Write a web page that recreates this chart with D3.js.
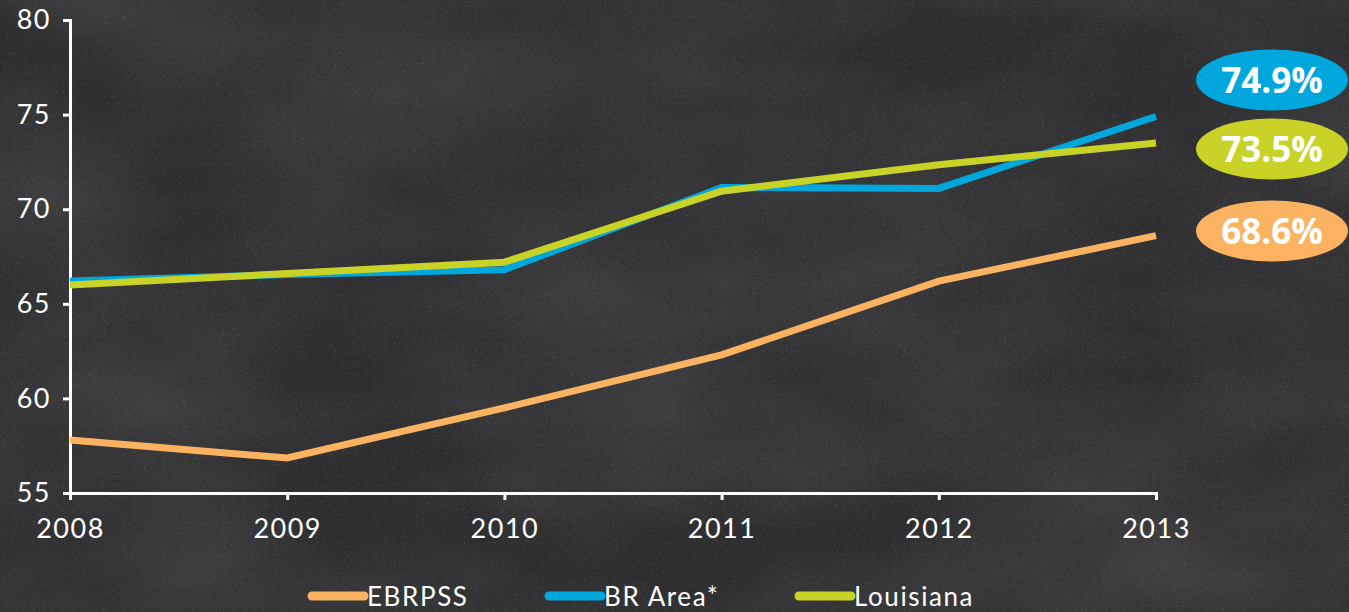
<!DOCTYPE html>
<html><head><meta charset="utf-8">
<script src="https://cdn.jsdelivr.net/npm/d3@7"></script>
<style>
html,body{margin:0;padding:0;background:#2f2f31;overflow:hidden;}
svg{display:block;}
</style></head>
<body>
<svg id="chart" width="1349" height="612"></svg>
<script>
const years = [2008, 2009, 2010, 2011, 2012, 2013];
const ebrpss = [57.8, 56.85, 59.5, 62.3, 66.2, 68.6];
const brArea = [66.2, 66.55, 66.8, 71.15, 71.1, 74.9];
const louisiana = [66.0, 66.6, 67.2, 70.95, 72.35, 73.5];
const yTicks = [55, 60, 65, 70, 75, 80];
const seriesNames = ["EBRPSS", "BR Area*", "Louisiana"];
const seriesColors = ["#fbb362", "#00a7dc", "#c9d327"];
const endLabels = ["68.6%", "74.9%", "73.5%"];

const svg = d3.select("#chart");
const W = 1349, H = 612;

// chalkboard texture
const defs = svg.append("defs");
const f = defs.append("filter").attr("id","noise").attr("x",0).attr("y",0).attr("width","100%").attr("height","100%");
f.append("feTurbulence").attr("type","fractalNoise").attr("baseFrequency","0.9").attr("numOctaves",2).attr("seed",3).attr("result","n");
f.append("feColorMatrix").attr("in","n").attr("type","matrix")
 .attr("values","0 0 0 0 1  0 0 0 0 1  0 0 0 0 1  0 0 0 1.6 -0.95");
const f2 = defs.append("filter").attr("id","cloud").attr("x",0).attr("y",0).attr("width","100%").attr("height","100%");
f2.append("feTurbulence").attr("type","fractalNoise").attr("baseFrequency","0.004 0.008").attr("numOctaves",3).attr("seed",7).attr("result","n");
f2.append("feColorMatrix").attr("in","n").attr("type","matrix")
 .attr("values","0 0 0 0 1  0 0 0 0 1  0 0 0 0 1  0 0 0 0.14 -0.04");
svg.append("rect").attr("width",W).attr("height",H).attr("fill","#2e2e30");
svg.append("rect").attr("width",W).attr("height",H).attr("filter","url(#cloud)");
svg.append("rect").attr("width",W).attr("height",H).attr("filter","url(#noise)").attr("opacity",0.3);

const x = d3.scaleLinear().domain([2008, 2013]).range([70, 1156]);
const y = d3.scaleLinear().domain([55, 80]).range([493, 20]);

const font = "Lato, 'Open Sans', sans-serif";

// Y axis
const yAxis = svg.append("g").attr("transform","translate(70,0)")
  .call(d3.axisLeft(y).tickValues(yTicks).tickSize(7).tickPadding(12).tickFormat(d3.format("d")));
yAxis.select(".domain").attr("stroke","#fff").attr("stroke-width",3);
yAxis.selectAll(".tick line").attr("stroke","#fff").attr("stroke-width",3);
yAxis.selectAll(".tick text").attr("fill","#fff").style("font-family",font).style("font-size","27px")
  .style("font-weight",400).style("letter-spacing","1.5px");

// X axis
const xAxis = svg.append("g").attr("transform","translate(0,493)")
  .call(d3.axisBottom(x).tickValues(years).tickSize(7).tickPadding(19).tickFormat(d3.format("d")));
xAxis.select(".domain").attr("stroke","#fff").attr("stroke-width",3);
xAxis.selectAll(".tick line").attr("stroke","#fff").attr("stroke-width",3);
xAxis.selectAll(".tick text").attr("fill","#fff").style("font-family",font).style("font-size","27px")
  .style("font-weight",400).style("letter-spacing","1.5px");

// lines
const data = [ebrpss, brArea, louisiana];
const line = d3.line().x((d,i)=>x(years[i])).y(d=>y(d));
data.forEach((s,k)=>{
  svg.append("path").datum(s).attr("d",line).attr("fill","none")
    .attr("stroke",seriesColors[k]).attr("stroke-width",7).attr("stroke-linejoin","miter");
});

// end labels (ellipses)
const labelY = [231, 80, 149];
data.forEach((s,k)=>{
  const g = svg.append("g").attr("transform",`translate(1272,${labelY[k]})`);
  g.append("ellipse").attr("rx",76).attr("ry",30.5).attr("fill",seriesColors[k]);
  g.append("text").attr("text-anchor","middle").attr("dy","0.36em")
    .attr("fill","#fff").style("font-family","'Open Sans', sans-serif").style("font-weight",700)
    .style("font-size","35px").text(endLabels[k]);
});

// legend
const legX = [308, 545, 795];
seriesNames.forEach((n,k)=>{
  const g = svg.append("g").attr("transform",`translate(${legX[k]},596)`);
  g.append("line").attr("x1",4).attr("x2",56).attr("y1",0).attr("y2",0)
    .attr("stroke",seriesColors[k]).attr("stroke-width",9).attr("stroke-linecap","round");
  g.append("text").attr("x",59).attr("y",10).attr("fill","#fff")
    .style("font-family",font).style("font-size","26px").style("font-weight",400)
    .style("letter-spacing","1.6px").text(n);
});
</script>
</body></html>
